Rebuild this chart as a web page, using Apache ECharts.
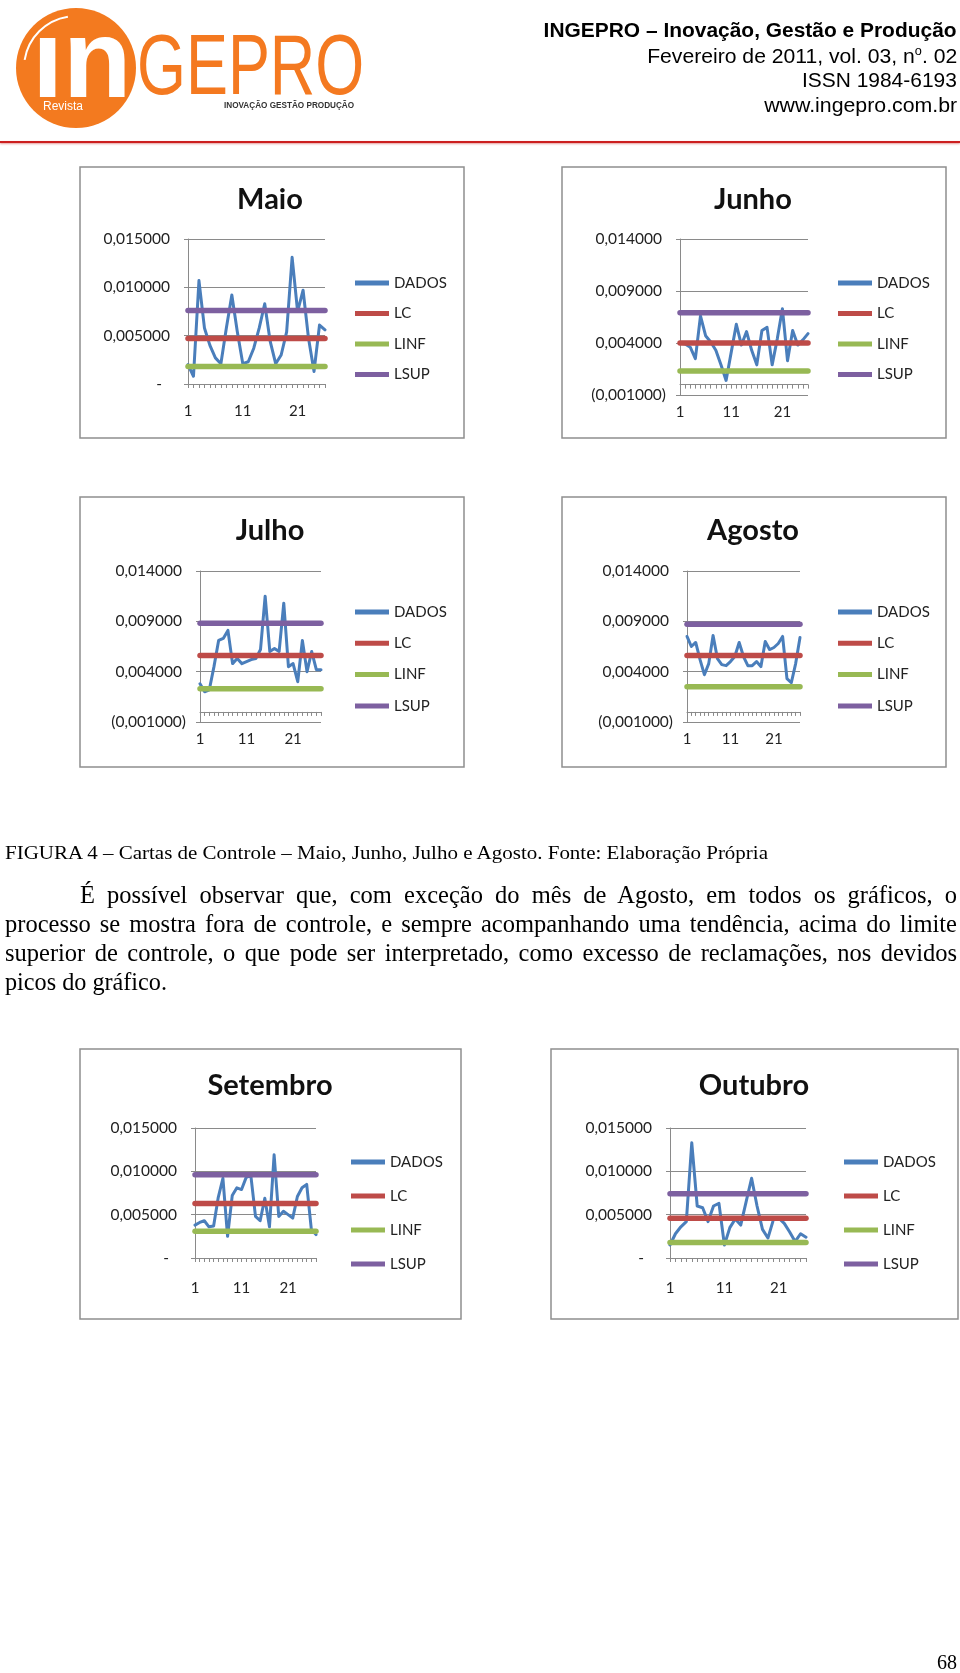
<!DOCTYPE html>
<html><head><meta charset="utf-8">
<script src="https://cdn.jsdelivr.net/npm/echarts@6/dist/echarts.min.js"></script>
<style>
html,body{margin:0;padding:0;background:#fff;}
#page{position:relative;width:960px;height:1673px;overflow:hidden;background:#fff;}
#chart{position:absolute;left:0;top:0;width:960px;height:1673px;}
.t{position:absolute;white-space:nowrap;color:#000;}
.hdr{font-family:'Liberation Sans',Arial,sans-serif;font-size:20px;line-height:22px;right:3px;}
.serif{font-family:'Liberation Serif','Times New Roman',serif;}
.body{font-size:24.5px;line-height:29px;}
#redline{position:absolute;left:0;top:141px;width:960px;height:2px;background:#cc1f1f;box-shadow:0 1px 2px rgba(200,30,30,0.45);}
</style></head>
<body><div id="page"><div id="chart"></div>
<div id="redline"></div>
<div class="t hdr" id="h1" style="top:19px;font-weight:bold">INGEPRO – Inovação, Gestão e Produção</div>
<div class="t hdr" id="h2" style="top:44.5px">Fevereiro de 2011, vol. 03, n<sup style="font-size:12px;line-height:0">o</sup>. 02</div>
<div class="t hdr" id="h3" style="top:69px">ISSN 1984-6193</div>
<div class="t hdr" id="h4" style="top:93.5px">www.ingepro.com.br</div>
<div class="t serif" id="cap" style="left:5px;top:843px;font-size:18.5px;line-height:20px">FIGURA 4 – Cartas de Controle – Maio, Junho, Julho e Agosto. Fonte: Elaboração Própria</div>
<div class="t serif body" id="p1" style="left:80px;top:879.5px">É possível observar que, com exceção do mês de Agosto, em todos os gráficos, o</div>
<div class="t serif body" id="p2" style="left:5px;top:909px">processo se mostra fora de controle, e sempre acompanhando uma tendência, acima do limite</div>
<div class="t serif body" id="p3" style="left:5px;top:938px">superior de controle, o que pode ser interpretado, como excesso de reclamações, nos devidos</div>
<div class="t serif body" id="p4" style="left:5px;top:967px">picos do gráfico.</div>
<div class="t serif" id="pg" style="right:3px;top:1650px;font-size:20px;line-height:24px">68</div>
</div>
<script>
// ---------- DATA ----------
const cats26 = ['1','2','3','4','5','6','7','8','9','10','11','12','13','14','15','16','17','18','19','20','21','22','23','24','25','26'];
const cats27 = ['1','2','3','4','5','6','7','8','9','10','11','12','13','14','15','16','17','18','19','20','21','22','23','24','25','26','27'];
const seriesNames = ['DADOS','LC','LINF','LSUP'];

const maioDados = [0.0020,0.0008,0.0107,0.0058,0.0040,0.0027,0.0021,0.0058,0.0092,0.0054,0.0021,0.0023,0.0037,0.0058,0.0083,0.0044,0.0021,0.0030,0.0054,0.0131,0.0075,0.0097,0.0047,0.0013,0.0061,0.0056];
const maioLC = 0.0047, maioLINF = 0.0018, maioLSUP = 0.0076;

const junhoDados = [0.0040,0.0039,0.0036,0.0025,0.0066,0.0047,0.0041,0.0033,0.0019,0.0004,0.0031,0.0058,0.0038,0.0051,0.0033,0.0019,0.0052,0.0055,0.0019,0.0044,0.0073,0.0023,0.0052,0.0038,0.0043,0.0049];
const junhoLC = 0.0040, junhoLINF = 0.0013, junhoLSUP = 0.0069;

const julhoDados = [0.0028,0.0020,0.0022,0.0045,0.0071,0.0073,0.0081,0.0048,0.0053,0.0048,0.0050,0.0052,0.0053,0.0062,0.0115,0.0060,0.0063,0.0060,0.0108,0.0045,0.0048,0.0030,0.0071,0.0040,0.0060,0.0042,0.0042];
const julhoLC = 0.0056, julhoLINF = 0.0023, julhoLSUP = 0.0088;

const agostoDados = [0.0075,0.0065,0.0069,0.0052,0.0037,0.0048,0.0076,0.0053,0.0047,0.0046,0.0050,0.0055,0.0069,0.0055,0.0046,0.0046,0.0050,0.0045,0.0070,0.0062,0.0064,0.0068,0.0075,0.0033,0.0029,0.0048,0.0074];
const agostoLC = 0.0056, agostoLINF = 0.0025, agostoLSUP = 0.0087;

const setembroDados = [0.0038,0.0041,0.0043,0.0036,0.0037,0.0070,0.0092,0.0025,0.0072,0.0081,0.0079,0.0093,0.0095,0.0048,0.0043,0.0069,0.0036,0.0119,0.0048,0.0054,0.0050,0.0046,0.0071,0.0081,0.0085,0.0033,0.0027];
const setembroLC = 0.0063, setembroLINF = 0.0031, setembroLSUP = 0.0096;

const outubroDados = [0.0015,0.0028,0.0036,0.0042,0.0133,0.0060,0.0058,0.0042,0.0060,0.0063,0.0015,0.0035,0.0045,0.0038,0.0065,0.0092,0.0060,0.0033,0.0023,0.0044,0.0046,0.0040,0.0030,0.0019,0.0028,0.0024];
const outubroLC = 0.0046, outubroLINF = 0.0018, outubroLSUP = 0.0074;

// y-axis ranges (tick values: min + k*interval)
const yRangeA = [0, 0.015];
const yRangeB = [-0.001, 0.014];
const yInterval = 0.005;

// ---------- LAYOUT ----------
const panels = [
  {title:'Maio', cats:cats26, dados:maioDados, lc:maioLC, linf:maioLINF, lsup:maioLSUP, yr:yRangeA,
   box:[80,167,384,271], tt:[270,200], grid:[188,239,137,145], lg:[355,275,14.5], xm:20},
  {title:'Junho', cats:cats26, dados:junhoDados, lc:junhoLC, linf:junhoLINF, lsup:junhoLSUP, yr:yRangeB,
   box:[562,167,384,271], tt:[753,200], grid:[680,239,128,156], lg:[838,275,14.5], xm:10},
  {title:'Julho', cats:cats27, dados:julhoDados, lc:julhoLC, linf:julhoLINF, lsup:julhoLSUP, yr:yRangeB,
   box:[80,497,384,270], tt:[270,531], grid:[200,571,121,151], lg:[355,604,15.3], xm:10},
  {title:'Agosto', cats:cats27, dados:agostoDados, lc:agostoLC, linf:agostoLINF, lsup:agostoLSUP, yr:yRangeB,
   box:[562,497,384,270], tt:[753,531], grid:[687,571,113,151], lg:[838,604,15.3], xm:10},
  {title:'Setembro', cats:cats27, dados:setembroDados, lc:setembroLC, linf:setembroLINF, lsup:setembroLSUP, yr:yRangeA,
   box:[80,1049,381,270], tt:[270,1086], grid:[195,1128,121,130], lg:[351,1154,18], xm:23},
  {title:'Outubro', cats:cats26, dados:outubroDados, lc:outubroLC, linf:outubroLINF, lsup:outubroLSUP, yr:yRangeA,
   box:[551,1049,407,270], tt:[754,1086], grid:[670,1128,136,130], lg:[844,1154,18], xm:23}
];

const COLORS = {DADOS:'#4A7EBB', LC:'#BE4B48', LINF:'#98B954', LSUP:'#7D60A0'};
const AX = '#8a8a8a';
const FONT = 'Lato';

function acct(v){
  if (Math.abs(v) < 1e-9) return '-\u00a0\u00a0\u00a0';
  const s = Math.abs(v).toFixed(6).replace('.', ',');
  return v < 0 ? '(' + s + ')' : s + '\u00a0';
}

const grids = [], xAxes = [], yAxes = [], series = [], legends = [], graphics = [];
panels.forEach((p, i) => {
  grids.push({left:p.grid[0], top:p.grid[1], width:p.grid[2], height:p.grid[3], containLabel:false, outerBoundsMode:'none'});
  xAxes.push({gridIndex:i, type:'category', data:p.cats, boundaryGap:false, position:'bottom',
    axisLine:{show:true, onZero:true, lineStyle:{color:AX, width:1}},
    axisTick:{show:true, interval:0, length:4, lineStyle:{color:AX}},
    axisLabel:{show:false}, splitLine:{show:false}});
  xAxes.push({gridIndex:i, type:'category', data:p.cats, boundaryGap:false, position:'bottom',
    axisLine:{show:false, onZero:false}, axisTick:{show:false}, splitLine:{show:false},
    axisLabel:{show:true, interval:9, margin:p.xm, fontSize:15, fontFamily:FONT, color:'#222'}});
  yAxes.push({gridIndex:i, type:'value', min:p.yr[0], max:p.yr[1], interval:yInterval,
    axisLine:{show:true, lineStyle:{color:AX, width:1}},
    axisTick:{show:true, length:4, lineStyle:{color:AX}},
    splitLine:{show:true, lineStyle:{color:AX, width:1}},
    axisLabel:{formatter:acct, margin:14, fontSize:15.5, fontFamily:FONT, color:'#222'}});
  const first = p.cats[0], last = p.cats[p.cats.length - 1];
  series.push({type:'line', name:'DADOS', xAxisIndex:2*i, yAxisIndex:i, data:p.dados, symbol:'none',
    lineStyle:{color:COLORS.DADOS, width:3, cap:'round', join:'round'}, itemStyle:{color:COLORS.DADOS}, z:2});
  [['LC', p.lc], ['LINF', p.linf], ['LSUP', p.lsup]].forEach(([nm, v], k) => {
    series.push({type:'line', name:nm, xAxisIndex:2*i, yAxisIndex:i, data:[[first, v], [last, v]], symbol:'none',
      lineStyle:{color:COLORS[nm], width:5.5, cap:'round'}, itemStyle:{color:COLORS[nm]}, z:3+k});
  });
  legends.push({left:p.lg[0], top:p.lg[1], orient:'vertical', padding:0, itemGap:p.lg[2],
    itemWidth:34, itemHeight:5, icon:'rect', selectedMode:false, data:seriesNames,
    textStyle:{fontSize:15, fontFamily:FONT, color:'#222', lineHeight:16}});
  graphics.push({type:'rect', shape:{x:p.box[0], y:p.box[1], width:p.box[2], height:p.box[3]},
    style:{fill:'none', stroke:'#8f8f8f', lineWidth:1.5}, z:-1, silent:true});
  graphics.push({type:'text', x:p.tt[0], y:p.tt[1], silent:true,
    style:{text:p.title, fill:'#111', font:'bold 29px Lato', textAlign:'center', textVerticalAlign:'middle', verticalAlign:'middle'}});
});

// logo
graphics.push({type:'circle', shape:{cx:76, cy:68, r:60}, style:{fill:'#F37A1F'}, silent:true});
graphics.push({type:'arc', shape:{cx:76, cy:68, r:52, startAngle:Math.PI*1.05, endAngle:Math.PI*1.45}, style:{stroke:'#fff', lineWidth:2, fill:'none'}, silent:true});
graphics.push({type:'text', x:32, y:66, scaleX:1.0, silent:true,
  style:{text:'ın', fill:'#fff', font:'bold 112px "Liberation Sans"', textAlign:'left', textVerticalAlign:'middle', verticalAlign:'middle'}});
graphics.push({type:'text', x:137, y:71, scaleX:0.74, silent:true,
  style:{text:'GEPRO', fill:'#F47920', font:'85px "Liberation Sans"', textAlign:'left', textVerticalAlign:'middle', verticalAlign:'middle'}});
graphics.push({type:'text', x:43, y:107, silent:true,
  style:{text:'Revista', fill:'#fff', font:'12px "Liberation Sans"', textAlign:'left', textVerticalAlign:'middle', verticalAlign:'middle'}});
graphics.push({type:'text', x:224, y:105, scaleX:0.86, silent:true,
  style:{text:'INOVAÇÃO GESTÃO PRODUÇÃO', fill:'#333', font:'bold 9.5px "Liberation Sans"', textAlign:'left', textVerticalAlign:'middle', verticalAlign:'middle'}});

const chart = echarts.init(document.getElementById('chart'), null, {renderer:'canvas', width:960, height:1673});
chart.setOption({
  animation:false,
  backgroundColor:'transparent',
  textStyle:{fontFamily:FONT},
  grid:grids, xAxis:xAxes, yAxis:yAxes, series:series, legend:legends, graphic:graphics
});

// ---------- text fitting ----------
function fitScale(id, w, origin){
  const el = document.getElementById(id);
  el.style.transform = 'none';
  const nw = el.getBoundingClientRect().width;
  el.style.transformOrigin = origin;
  el.style.transform = 'scaleX(' + (w / nw) + ')';
}
function justify(id, w){
  const el = document.getElementById(id);
  el.style.wordSpacing = '0px'; el.style.transform = 'none';
  const nw = el.getBoundingClientRect().width;
  const n = (el.textContent.match(/ /g) || []).length;
  if (nw <= w) el.style.wordSpacing = ((w - nw) / n) + 'px';
  else { el.style.transformOrigin = 'left center'; el.style.transform = 'scaleX(' + (w / nw) + ')'; }
}
function layoutText(){
  fitScale('h1', 413, 'right center');
  fitScale('h2', 310, 'right center');
  fitScale('h3', 155, 'right center');
  fitScale('h4', 193, 'right center');
  fitScale('cap', 763, 'left center');
  justify('p1', 877);
  justify('p2', 952);
  justify('p3', 952);
  fitScale('p4', 162, 'left center');
}
layoutText();
</script>
</body></html>
